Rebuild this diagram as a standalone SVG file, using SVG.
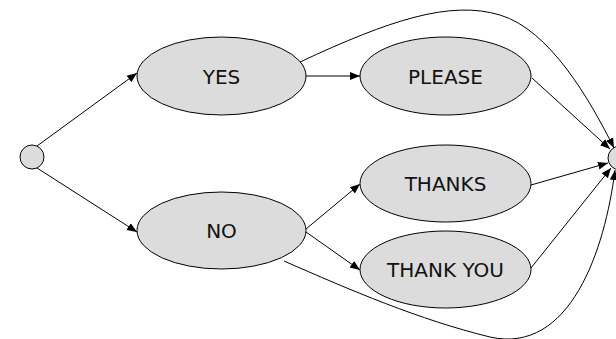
<svg xmlns="http://www.w3.org/2000/svg" width="616" height="339" viewBox="0 0 616 339">
<defs>
<marker id="ah" viewBox="0 0 10 10" refX="10" refY="5" markerWidth="10" markerHeight="10" markerUnits="userSpaceOnUse" orient="auto">
<path d="M0,1 L10,5 L0,9 Z" fill="#000"/>
</marker>
<style>
.n{fill:#dcdcdc;stroke:#000;stroke-width:1}
.t{font-family:"DejaVu Sans",Verdana,sans-serif;font-size:20px;fill:#111;text-anchor:middle}
.e{fill:none;stroke:#000;stroke-width:1;marker-end:url(#ah)}
</style>
</defs>
<rect width="616" height="339" fill="#fff"/>
<g id="connectors">
<path class="e" d="M37,146 L137,73"/>
<path class="e" d="M37,168 L137,232"/>
<path class="e" d="M306,76 L360,76"/>
<path class="e" d="M300,62 C390,20 450,0 500,15 C550,30 590,100 614,148"/>
<path class="e" d="M532,78 L610,149"/>
<path class="e" d="M306,229 L360,184"/>
<path class="e" d="M306,232 L360,270"/>
<path class="e" d="M531,185 L608,163"/>
<path class="e" d="M531,268 L611,168"/>
<path class="e" d="M284,261 C350,290 420,320 490,337 C570,355 605,250 615,170"/>
</g>
<g id="start"><circle class="n" cx="32" cy="157" r="12"/></g>
<g id="yes"><ellipse class="n" cx="221.5" cy="76" rx="84.5" ry="39"/><text class="t" x="221.5" y="83.5">YES</text></g>
<g id="please"><ellipse class="n" cx="445.5" cy="76" rx="85.5" ry="39"/><text class="t" x="445.5" y="83.5">PLEASE</text></g>
<g id="no"><ellipse class="n" cx="221.5" cy="230.5" rx="84.5" ry="38.5"/><text class="t" x="221.5" y="238">NO</text></g>
<g id="thanks"><ellipse class="n" cx="445.5" cy="183.5" rx="85.5" ry="38.5"/><text class="t" x="445.5" y="191">THANKS</text></g>
<g id="thankyou"><ellipse class="n" cx="445.5" cy="269.5" rx="85.5" ry="38.5"/><text class="t" x="445.5" y="277">THANK YOU</text></g>
<g id="end"><circle class="n" cx="620" cy="158" r="12"/></g>
</svg>
